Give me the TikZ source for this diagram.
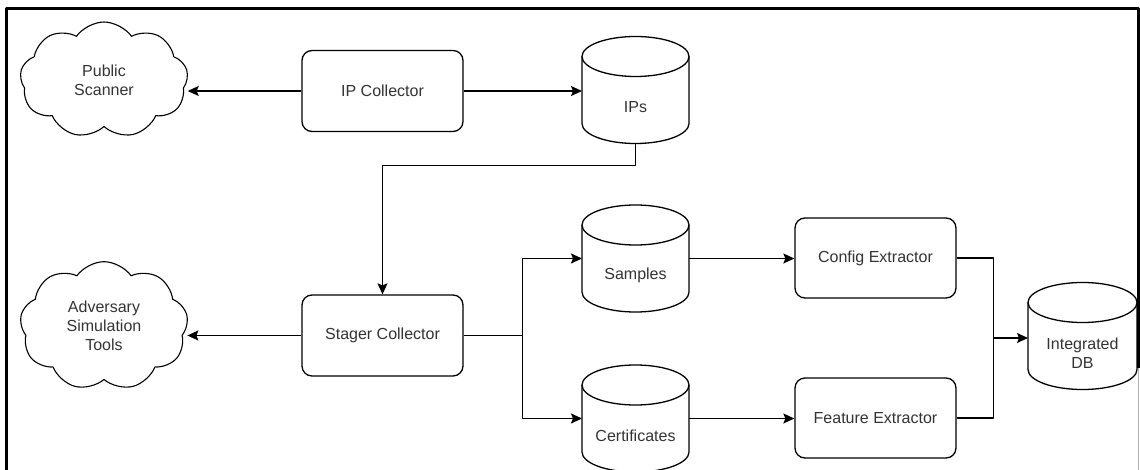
\documentclass[tikz,border=0pt]{standalone}
\usepackage{fontspec}
\setmainfont{Liberation Sans}
\usetikzlibrary{shapes.symbols,arrows.meta,calc}
\newcommand{\datacyl}[5]{
	\node[cyl_body, minimum width=#4pt] (#1) at (#2,#3) {};
	\draw[cyl_line] ($(#1.north)+(0,20)$) ellipse [x radius=#4/2, y radius=20];
	\draw[cyl_line] ($(#1.north west)+(0,20)$) -- ($(#1.south west)+(0,-20)$) arc[start angle=180, end angle=0, x radius=#4/2, y radius=20] -- ($(#1.north east)+(0,20)$);
	\node[cyl_text] (#1_t) at ($(#1.center)+(0,17)$) {#5};
}

\begin{document}
\begin{tikzpicture}[x=1pt,y=-1pt,join=round,font=\fontsize{16}{19}\selectfont]
		\tikzstyle{proc_box}=[draw, rectangle, rounded corners=10pt, line width=1.3pt, fill=white, minimum width=161pt, minimum height=81pt, text=black!80];
		\tikzstyle{cyl_body}=[rectangle, inner sep=0pt, outer sep=0pt, minimum height=107pt];
		\tikzstyle{cyl_line}=[line width=1.3pt];
		\tikzstyle{cyl_text}=[align=center, text=black!80];
		\tikzstyle{ext_cloud}=[draw, cloud, cloud puffs=9, cloud puff arc=110, line width=1.1pt, minimum width=168pt, minimum height=116pt, align=center, text=black!80];
		\tikzstyle{flow_arr}=[-{Stealth[length=11pt,width=10pt,inset=2pt]}, line width=1.3pt];

		\useasboundingbox (0,0) rectangle (1140,470);
		\draw[line width=3pt] (6,470) -- (6,9) -- (1138,9) -- (1138,368);
		\draw[black!30, line width=1pt] (1138,368) -- (1138,470);

		\node[ext_cloud] (pub_scn) at (104,80) {Public\\Scanner};
		\node[ext_cloud] (adv_sim) at (104,326) {Adversary\\Simulation\\Tools};

		\node[proc_box] (ip_col) at (382.5,91) {IP Collector};
		\node[proc_box] (stg_col) at (382.5,335.5) {Stager Collector};
		\node[proc_box, minimum height=80pt] (cfg_ext) at (875.5,258) {Config Extractor};
		\node[proc_box, minimum height=80pt] (fea_ext) at (875.5,418) {Feature Extractor};

		\datacyl{ips}{635.5}{90}{107}{IPs}
		\datacyl{smp}{635.5}{258.5}{107}{Samples}
		\datacyl{crt}{635.5}{418.5}{107}{Certificates}
		\datacyl{int_db}{1082.5}{336}{109}{Integrated\\DB}

		\draw[flow_arr] (ip_col.west) -- (ip_col.west -| pub_scn.east);
		\draw[flow_arr] (stg_col.west) -- (stg_col.west -| adv_sim.east);
		\draw[flow_arr] (ip_col.east) -- (ip_col.east -| ips.west);
		\draw[flow_arr] (ips.south) -- ++(0,22) -| (stg_col.north);

		\draw[flow_arr] (stg_col.east) -- ++(59,0) |- (smp.west);
		\draw[flow_arr] (stg_col.east) -- ++(59,0) |- (crt.west);
		\draw[flow_arr] (smp.east) -- (smp.east -| cfg_ext.west);
		\draw[flow_arr] (crt.east) -- (crt.east -| fea_ext.west);

		\draw[line width=1.3pt] (cfg_ext.east) -- ++(37,0) |- (fea_ext.east);
		\coordinate (mrg) at ($(cfg_ext.east)!0.5!(fea_ext.east)+(37,0)$);
		\draw[flow_arr] (mrg) -- (mrg -| int_db.west);
\end{tikzpicture}
\end{document}
